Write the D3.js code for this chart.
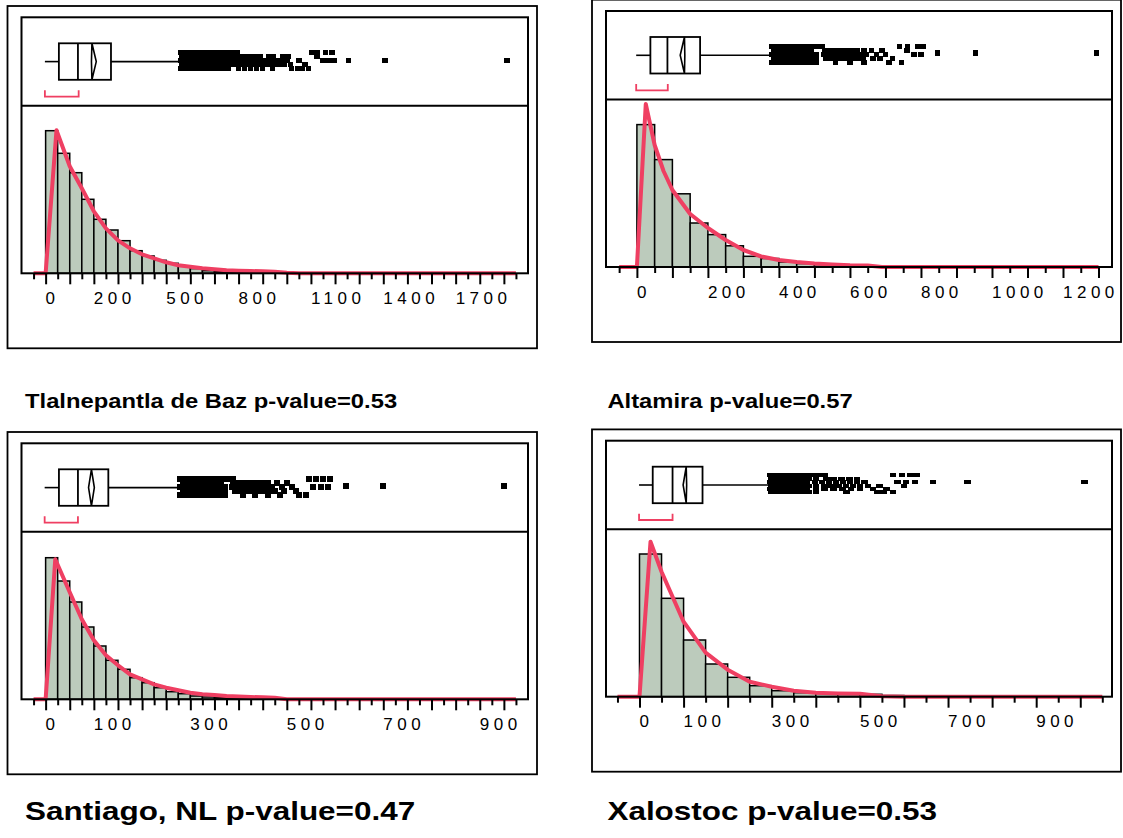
<!DOCTYPE html>
<html><head><meta charset="utf-8">
<script src="https://cdn.jsdelivr.net/npm/d3@7"></script>
<style>body{margin:0;background:#fff}svg{display:block}</style>
</head><body>
<svg id="c" width="1123" height="838"></svg>
<script>
// ---------------- DATA ----------------
const siteNames = ["Tlalnepantla de Baz", "Altamira", "Santiago, NL", "Xalostoc"];
const pValues = ["0.53", "0.57", "0.47", "0.53"];
const binWidths = [50, 50, 25, 50];

// histogram heights (relative frequency units), bins start at 0
const hist1 = [142.6, 120, 100.6, 74, 54, 43.3, 32.6, 22.6, 17.3, 13, 10, 7, 4.7, 2.6, 1.6, 1.2, 1, 0.8, 0.6, 0.5, 0.4, 0.3, 0.3, 0.2];
const hist2 = [142.4, 107.4, 73.2, 44, 32.4, 21.2, 10.7, 8.5, 5, 3.4, 2.4, 1.7, 1.2, 1, 0.6, 0.4, 0.3];
const hist3 = [141.6, 118.3, 97.3, 72.3, 53.3, 39, 30, 21.6, 16.6, 11.6, 7.6, 5.6, 3.3, 2.3, 1.6, 1.2, 1, 0.8, 0.6, 0.5];
const hist4 = [142.7, 98.4, 56.7, 32.7, 19.4, 11, 6, 4, 3.3, 2.7, 2.4, 1.2, 0.5];

// fitted density curves
const fitX1 = [-50, 0, 45, 100, 150, 200, 250, 300, 350, 400, 450, 500, 550, 600, 650, 700, 750, 800, 850, 900, 950, 1000, 1050, 1950];
const fitY1 = [0, 0, 143, 107, 85, 62, 45, 33, 25, 19, 15, 11, 8, 6.5, 5, 4, 3, 2.6, 2.3, 2, 1.5, 0.5, 0, 0];
const fitX2 = [-50, 0, 25, 50, 75, 100, 150, 200, 250, 300, 350, 400, 450, 500, 550, 600, 650, 690, 1300];
const fitY2 = [0, 0, 163, 122, 96, 77, 53, 39, 27, 17, 10.5, 7, 5, 3.4, 2.4, 1.7, 1.6, 0, 0];
const fitX3 = [-25, 0, 20, 50, 75, 100, 125, 150, 175, 200, 225, 250, 275, 300, 325, 350, 375, 400, 425, 450, 475, 500, 975];
const fitY3 = [0, 0, 140, 107, 80, 59, 44, 34, 25, 20, 15, 11.6, 9, 6.6, 5, 4.3, 3.3, 2.8, 2.3, 2, 1.6, 0, 0];
const fitX4 = [-50, 0, 25, 50, 100, 150, 200, 250, 300, 350, 400, 450, 500, 550, 600, 1050];
const fitY4 = [0, 0, 155, 125, 75, 44, 27, 15, 10, 6, 4, 3.3, 3, 0.5, 0, 0];

// box plots: [whisker low, Q1, median, Q3, whisker high]
const box1 = [-3, 55, 134, 271, 557];
const box2 = [-2, 38, 86, 178, 378];
const box3 = [-2, 27.6, 67, 130, 276];
const box4 = [-1, 30, 75, 143, 292];
// means diamonds: [lower CI, mean, upper CI]
const mean1 = [190, 192, 210];
const mean2 = [122, 134, 135];
const mean3 = [89, 95, 101];
const mean4 = [99, 106, 107];
// shortest half brackets
const short1 = [-3, 137];
const short2 = [-2, 87];
const short3 = [-2, 67];
const short4 = [-1, 75];

// outliers grouped by vertical jitter band: [jitter, [values...]]
const out1 = [
  [-9, [560, 578, 596, 614, 632, 650, 668, 686, 704, 722, 740, 758, 776, 794, 1105, 1128, 1160, 1188]],
  [-5, [565, 583, 601, 619, 637, 655, 673, 691, 709, 727, 745, 764, 782, 800, 818, 836, 854, 872, 890, 925, 945, 985, 1005, 1125]],
  [-1, [560, 578, 596, 614, 632, 650, 668, 686, 704, 722, 740, 756, 780, 798, 816, 834, 852, 870, 888, 906, 924, 942, 960, 980, 1000, 1050, 1150, 1175, 1195, 1255, 1407, 1912]],
  [3, [565, 583, 601, 619, 637, 655, 673, 691, 709, 727, 745, 756, 772, 790, 808, 826, 844, 862, 880, 898, 916, 934, 952, 970, 990, 1015, 1075]],
  [7, [560, 578, 596, 614, 632, 650, 668, 686, 704, 722, 740, 756, 800, 825, 850, 875, 900, 940, 1020, 1045, 1065, 1090]]
];
const out2 = [
  [-9, [380, 393, 406, 419, 432, 445, 458, 471, 484, 497, 510, 523, 740, 762, 790, 806]],
  [-5, [386, 399, 412, 425, 438, 451, 464, 477, 490, 530, 545, 560, 575, 590, 605, 620, 640, 660, 690, 760]],
  [-2.4, [846, 954, 1294]],
  [-1, [380, 393, 406, 419, 432, 445, 458, 471, 484, 497, 505, 525, 540, 555, 570, 585, 600, 615, 630, 645, 675, 700, 780, 800]],
  [3, [386, 399, 412, 425, 438, 451, 464, 477, 490, 505, 533, 548, 563, 578, 593, 608, 623, 638, 665, 685, 720]],
  [7, [380, 393, 406, 419, 432, 445, 458, 471, 484, 497, 505, 560, 600, 640, 710, 745]]
];
const out3 = [
  [-9, [279, 289, 299, 309, 319, 329, 339, 349, 359, 369, 379, 389, 545, 560, 575, 590]],
  [-5, [284, 294, 304, 314, 324, 334, 344, 354, 364, 388, 400, 412, 424, 436, 448, 460, 480, 500]],
  [-2, [622, 700, 951]],
  [-1, [279, 289, 299, 309, 319, 329, 339, 349, 359, 369, 372, 386, 398, 410, 422, 434, 446, 458, 470, 490, 510, 555, 570, 585]],
  [3, [284, 294, 304, 314, 324, 334, 344, 354, 364, 372, 392, 404, 416, 428, 440, 452, 464, 476, 495, 520]],
  [7, [279, 289, 299, 309, 319, 329, 339, 349, 359, 369, 372, 410, 435, 460, 485, 525, 540]]
];
const out4 = [
  [-10, [296, 310, 324, 338, 352, 366, 380, 394, 408, 420, 575, 595, 615, 630]],
  [-6.5, [300, 314, 328, 342, 356, 370, 384, 400, 424, 440, 458, 476, 494]],
  [-3, [296, 310, 324, 338, 352, 366, 380, 398, 414, 430, 446, 462, 478, 494, 510, 585, 605, 625, 666, 744, 1010]],
  [0.5, [300, 314, 328, 342, 356, 370, 384, 400, 420, 436, 452, 468, 484, 500, 518, 545, 600]],
  [4, [296, 310, 324, 338, 352, 366, 380, 400, 420, 440, 460, 480, 500, 530, 560]],
  [7, [300, 314, 328, 342, 356, 370, 384, 400, 470, 540, 555, 575]]
];

// axis labels
const tickLabels1 = [0, 200, 500, 800, 1100, 1400, 1700];
const tickLabels2 = [0, 200, 400, 600, 800, 1000, 1200];
const tickLabels3 = [0, 100, 300, 500, 700, 900];
const tickLabels4 = [0, 100, 300, 500, 700, 900];

// ---------------- LAYOUT ----------------
const RED = "#ef3f62", FILL = "#bccbbc";
const panels = [
  {hist: hist1, fx: fitX1, fy: fitY1, box: box1, mean: mean1, sh: short1, out: out1, labels: tickLabels1,
   domain: [-100, 2000], ticks: [-50, 1950, 50], major: 100, left: 21.5, top: 17.3, right: 528, mw: 5.5, mh: 5.5,
   cap: {x: 25, y: 407.5, size: 19.5}},
  {hist: hist2, fx: fitX2, fy: fitY2, box: box2, mean: mean2, sh: short2, out: out2, labels: tickLabels2,
   domain: [-87, 1338], ticks: [-50, 1300, 50], major: 100, left: 606, top: 11, right: 1112, mw: 5.5, mh: 5.5,
   cap: {x: 607.4, y: 407.5, size: 19.5}},
  {hist: hist3, fx: fitX3, fy: fitY3, box: box3, mean: mean3, sh: short3, out: out3, labels: tickLabels3,
   domain: [-50, 1000], ticks: [-25, 975, 25], major: 50, left: 21.5, top: 443.3, right: 528, mw: 6, mh: 6,
   cap: {x: 25, y: 820, size: 25.8}},
  {hist: hist4, fx: fitX4, fy: fitY4, box: box4, mean: mean4, sh: short4, out: out4, labels: tickLabels4,
   domain: [-76, 1072], ticks: [-50, 1050, 50], major: 100, left: 606, top: 440.7, right: 1112, mw: 6.5, mh: 4,
   cap: {x: 607.4, y: 820, size: 25.8}}
];

const svg = d3.select("#c");

panels.forEach((p, i) => {
  const g = svg.append("g");
  const base = p.top + 256, sep = p.top + 88.5;
  const x = d3.scaleLinear().domain(p.domain).range([p.left, p.right]);
  const y = d3.scaleLinear().domain([0, 167.5]).range([base, sep]);
  const bw = binWidths[i];

  // outer frame
  g.append("rect").attr("x", p.left - 14).attr("y", p.top - 11.3)
    .attr("width", (p.right + 9) - (p.left - 14)).attr("height", (base + 75) - (p.top - 11.3))
    .attr("fill", "none").attr("stroke", "#000").attr("stroke-width", 1.8);

  // histogram bars
  g.selectAll("rect.bar").data(p.hist).enter().append("rect").attr("class", "bar")
    .attr("x", (d, k) => x(k * bw)).attr("width", (d, k) => x((k + 1) * bw) - x(k * bw))
    .attr("y", d => y(d)).attr("height", d => base - y(d))
    .attr("fill", FILL).attr("stroke", "#000").attr("stroke-width", 1.5);

  // fitted curve
  const line = d3.line().x(d => x(d[0])).y(d => y(d[1]));
  g.append("path").datum(p.fx.map((v, k) => [v, p.fy[k]]))
    .attr("d", line).attr("fill", "none").attr("stroke", RED).attr("stroke-width", 4)
    .attr("stroke-linejoin", "round");

  // inner frame
  g.append("rect").attr("x", p.left).attr("y", p.top).attr("width", p.right - p.left).attr("height", base - p.top)
    .attr("fill", "none").attr("stroke", "#000").attr("stroke-width", 2);
  g.append("line").attr("x1", p.left).attr("x2", p.right).attr("y1", sep).attr("y2", sep)
    .attr("stroke", "#000").attr("stroke-width", 2);

  // axis
  const tv = d3.range(p.ticks[0], p.ticks[1] + 0.001, p.ticks[2]);
  const ax = d3.axisBottom(x).tickValues(tv).tickSize(11)
    .tickFormat(d => p.labels.includes(d) ? String(d) : "");
  const ag = g.append("g").attr("transform", `translate(0,${base})`).call(ax);
  ag.select(".domain").remove();
  ag.selectAll(".tick line").attr("stroke", "#000").attr("stroke-width", 2)
    .attr("y2", d => (Math.abs(d % p.major) < 1e-6) ? 11 : 6);
  ag.selectAll(".tick text").attr("text-anchor", "start").attr("y", 30.5).attr("dy", 0)
    .attr("x", -0.5).attr("fill", "#000")
    .style("font-family", "'Liberation Sans', Arial, sans-serif").style("font-size", "17px")
    .style("letter-spacing", "4.5px");

  // box plot
  const cy = p.top + 44.3, bt = p.top + 26, bb = p.top + 62.5;
  const b = p.box;
  g.append("line").attr("x1", x(b[0])).attr("x2", x(b[1])).attr("y1", cy).attr("y2", cy).attr("stroke", "#000").attr("stroke-width", 1.6);
  g.append("line").attr("x1", x(b[3])).attr("x2", x(b[4])).attr("y1", cy).attr("y2", cy).attr("stroke", "#000").attr("stroke-width", 1.6);
  g.append("rect").attr("x", x(b[1])).attr("y", bt).attr("width", x(b[3]) - x(b[1])).attr("height", bb - bt)
    .attr("fill", "#fff").attr("stroke", "#000").attr("stroke-width", 1.8);
  g.append("line").attr("x1", x(b[2])).attr("x2", x(b[2])).attr("y1", bt).attr("y2", bb).attr("stroke", "#000").attr("stroke-width", 1.8);
  const m = p.mean;
  g.append("path").attr("d", `M${x(m[0])},${cy}L${x(m[1])},${bt}L${x(m[2])},${cy}L${x(m[1])},${bb}Z`)
    .attr("fill", "none").attr("stroke", "#000").attr("stroke-width", 1.6);
  // shortest half bracket
  g.append("path").attr("d", `M${x(p.sh[0])},${p.top + 73}V${p.top + 79.3}H${x(p.sh[1])}V${p.top + 73}`)
    .attr("fill", "none").attr("stroke", RED).attr("stroke-width", 1.8);
  // outliers
  const pts = p.out.flatMap(r => r[1].map(v => [v, r[0]]));
  g.selectAll("rect.out").data(pts).enter().append("rect").attr("class", "out")
    .attr("x", d => x(d[0]) - p.mw / 2).attr("y", d => cy + d[1] - p.mh / 2)
    .attr("width", p.mw).attr("height", p.mh).attr("fill", "#000")
    .attr("shape-rendering", "crispEdges");

  // caption
  svg.append("text").attr("transform", `translate(${p.cap.x},${p.cap.y}) scale(1.22,1)`)
    .style("font-family", "'Liberation Sans', Arial, sans-serif").style("font-weight", "bold")
    .style("font-size", p.cap.size + "px").attr("fill", "#000")
    .text(`${siteNames[i]} p-value=${pValues[i]}`);
});
</script>
</body></html>
